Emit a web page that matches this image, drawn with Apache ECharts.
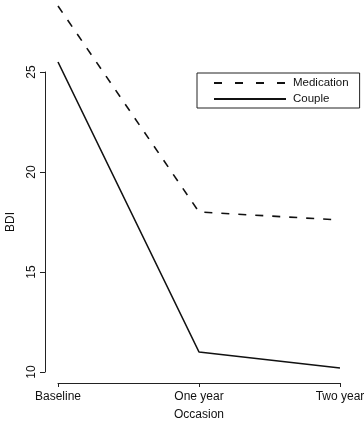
<!DOCTYPE html>
<html>
<head>
<meta charset="utf-8">
<script src="https://cdn.jsdelivr.net/npm/echarts@6/dist/echarts.min.js"></script>
<style>
  html, body { margin: 0; padding: 0; background: #fff; }
  #chart { width: 364px; height: 422px; }
</style>
</head>
<body>
<div id="chart"></div>
<script>
// occasions on the x axis
var occasions = ['Baseline', 'One year', 'Two year']
// mean BDI per group
var medication = [28.3, 18.0, 17.6]
var couple = [25.5, 11.0, 10.2]

var chart = echarts.init(document.getElementById('chart'))
var font = 'Liberation Sans, Arial, Helvetica, sans-serif'

var option = {
    animation: false,
    backgroundColor: '#fff',
    textStyle: { fontFamily: font, color: '#111' },
    grid: { left: 58, right: 24, top: 72, bottom: 50, outerBoundsMode: 'none', containLabel: false },
    legend: {
        orient: 'vertical',
        left: 197,
        top: 73,
        padding: [4, 11, 3, 16],
        itemWidth: 72,
        itemHeight: 14,
        itemGap: 4,
        borderColor: '#222',
        borderWidth: 1,
        borderRadius: 0,
        itemStyle: { opacity: 0 },
        textStyle: { fontFamily: font, fontSize: 11.5, color: '#111', padding: [0, 0, 0, 2] },
        data: [
            { name: 'Medication', lineStyle: { type: [8, 13] } },
            { name: 'Couple' }
        ]
    },
    xAxis: {
        type: 'category',
        data: occasions,
        boundaryGap: false,
        offset: 11,
        name: 'Occasion',
        nameLocation: 'middle',
        nameGap: 26,
        nameTextStyle: { fontFamily: font, fontSize: 12, color: '#111' },
        axisLine: { lineStyle: { color: '#222', width: 1 } },
        axisTick: { length: 4, lineStyle: { color: '#222' } },
        axisLabel: { fontSize: 12, color: '#111', margin: 8 },
        splitLine: { show: false }
    },
    yAxis: {
        type: 'value',
        min: 10,
        max: 25,
        interval: 5,
        offset: 13,
        name: 'BDI',
        nameLocation: 'middle',
        nameRotate: 90,
        nameGap: 28,
        nameTextStyle: { fontFamily: font, fontSize: 12, color: '#111' },
        axisLine: { show: true, lineStyle: { color: '#222', width: 1 } },
        axisTick: { show: true, length: 5, lineStyle: { color: '#222' } },
        axisLabel: { rotate: 90, fontSize: 12, color: '#111', margin: 7 },
        splitLine: { show: false }
    },
    series: [
        {
            name: 'Medication',
            type: 'line',
            data: medication,
            symbol: 'none',
            clip: false,
            lineStyle: { color: '#111', width: 1.6, type: [8, 9] },
            itemStyle: { color: '#111' }
        },
        {
            name: 'Couple',
            type: 'line',
            data: couple,
            symbol: 'none',
            clip: false,
            lineStyle: { color: '#111', width: 1.6, type: 'solid' },
            itemStyle: { color: '#111' }
        }
    ]
}

chart.setOption(option)
</script>
</body>
</html>
